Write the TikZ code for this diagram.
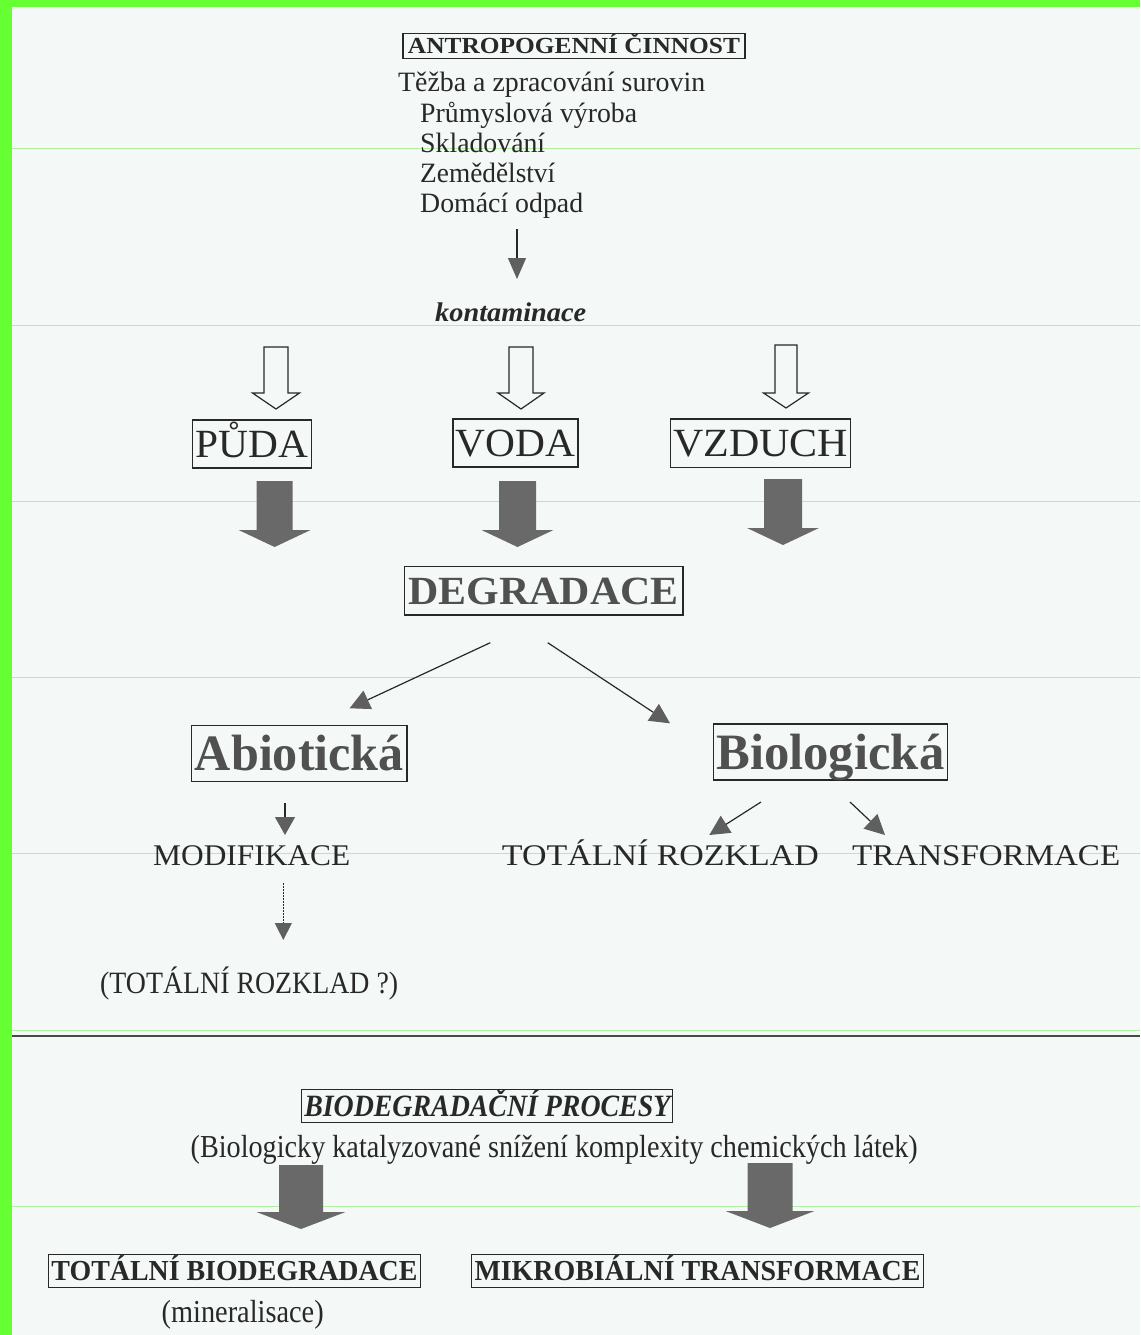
\documentclass[tikz,border=0pt]{standalone}
\usepackage{fontspec}
\setmainfont{Liberation Serif}
\usetikzlibrary{arrows.meta}
\definecolor{bg}{RGB}{244,248,246}
\definecolor{scangreen}{RGB}{102,255,51}
\definecolor{faintgreen}{RGB}{175,240,160}
\definecolor{ink}{RGB}{40,40,40}
\definecolor{tipgray}{RGB}{95,95,95}
\definecolor{blockgray}{RGB}{105,105,105}
\definecolor{textgray}{RGB}{80,80,80}
\newcommand\fitw[2]{\resizebox{#1pt}{\height}{#2}}
\newcommand\fsz[1]{\fontsize{#1pt}{#1pt}\selectfont}
% cx, ytop, yhead, ytip, shaft half width, head half width, style
\newcommand\blockarr[7]{\path[#7] (#1-#5,#2) -- (#1+#5,#2) -- (#1+#5,#3) -- (#1+#6,#3) -- (#1,#4) -- (#1-#6,#3) -- (#1-#5,#3) -- cycle;}
\begin{document}
\begin{tikzpicture}[x=1pt,y=-1pt,
  box/.style={draw=ink, line width=1.2pt, inner sep=0pt, text depth=0pt, text=ink},
  lbl/.style={inner sep=0pt, anchor=base west, text=ink},
  conn/.style={draw=ink, line width=1.2pt, -{Triangle[width=20pt,length=20pt,color=tipgray]}},
  hollow/.style={draw=ink, fill=bg, line width=1.2pt},
  solidarr/.style={fill=blockgray}]
\useasboundingbox (0,0) rectangle (1140,1335);
\fill[bg] (0,0) rectangle (1140,1335);
\fill[scangreen] (0,0) rectangle (12,1335);
\fill[scangreen] (0,0) rectangle (1140,7);
\foreach \yy in {148,325,501.5,677.5,853,1030,1206.7}
  \draw[faintgreen, line width=1pt] (12,\yy) -- (1140,\yy);
\draw[ink!85, line width=2.5pt] (12,1036) -- (1140,1036);

% top block
\node[box, minimum width=342pt, minimum height=25.6pt, text height=15pt, font=\bfseries\fsz{23}] (title) at (574,46) {\fitw{332}{ANTROPOGENNÍ ČINNOST}};
\node[lbl, font=\fsz{28}] (t1) at (398,92) {\fitw{307}{Těžba a zpracování surovin}};
\node[lbl, font=\fsz{28}] (t2) at (420,122) {\fitw{217}{Průmyslová výroba}};
\node[lbl, font=\fsz{28}] (t3) at (420,152) {\fitw{125}{Skladování}};
\node[lbl, font=\fsz{28}] (t4) at (420,182) {\fitw{135}{Zemědělství}};
\node[lbl, font=\fsz{28}] (t5) at (420,212) {\fitw{163}{Domácí odpad}};
\coordinate (k0) at (517,229);
\coordinate (k1) at (517,279);
\draw[conn, -{Triangle[width=18pt,length=21pt,color=tipgray]}] (k0) -- (k1);
\node[lbl, font=\bfseries\itshape\fsz{27}] (kont) at (435,321) {\fitw{151}{kontaminace}};

% hollow arrows
\blockarr{276}{347}{393}{409}{12}{23.5}{hollow}
\blockarr{521}{347}{393}{409}{12}{23}{hollow}
\blockarr{786}{345}{393}{408}{11}{22.5}{hollow}

% media
\node[box, minimum width=119pt, minimum height=48pt, text height=26.5pt, font=\fsz{40}] (puda) at (252,444) {\fitw{112.6}{PŮDA}};
\node[box, minimum width=125pt, minimum height=48pt, text height=26.5pt, font=\fsz{40}] (voda) at (515.5,443) {\fitw{119.6}{VODA}};
\node[box, minimum width=180pt, minimum height=48.7pt, text height=26.5pt, font=\fsz{40}] (vzduch) at (760.7,443.3) {\fitw{175}{VZDUCH}};

% solid arrows
\blockarr{274.6}{481}{530}{547}{18}{36}{solidarr}
\blockarr{517.5}{481}{530}{547}{18.5}{36}{solidarr}
\blockarr{783}{479}{528}{545}{19}{36}{solidarr}

\node[box, minimum width=278.6pt, minimum height=48.3pt, text height=26.5pt, font=\bfseries\fsz{40}, text=textgray] (degr) at (543.6,590.8) {\fitw{270}{DEGRADACE}};

\coordinate (d1) at (490.3,642.7);
\coordinate (d1e) at (349.6,708.3);
\coordinate (d2) at (547.7,642.7);
\coordinate (d2e) at (670,723.3);
\draw[conn] (d1) -- (d1e);
\draw[conn] (d2) -- (d2e);

\node[box, minimum width=215.2pt, minimum height=56pt, text height=34pt, font=\bfseries\fsz{51}, text=textgray] (abio) at (299.4,753.7) {\fitw{209}{Abiotická}};
\node[box, minimum width=234pt, minimum height=56pt, text height=34pt, font=\bfseries\fsz{51}, text=textgray] (bio) at (830.3,752) {\fitw{228}{Biologická}};

\coordinate (m0) at (285,803);
\coordinate (m1) at (285,835);
\draw[conn, -{Triangle[width=20pt,length=18pt,color=tipgray]}] (m0) -- (m1);
\node[lbl, font=\fsz{30}] (modif) at (153,865) {\fitw{197}{MODIFIKACE}};
\coordinate (q0) at (283.3,883);
\coordinate (q1) at (283.3,940);
\draw[conn, dash pattern=on 1.5pt off 1.5pt, -{Triangle[width=17pt,length=17pt,color=tipgray]}] (q0) -- (q1);
\node[lbl, font=\fsz{31}] (totq) at (100,993) {\fitw{298}{(TOTÁLNÍ ROZKLAD ?)}};

\coordinate (b1) at (761,802);
\coordinate (b1e) at (709.3,835);
\coordinate (b2) at (850,802);
\coordinate (b2e) at (885,835);
\draw[conn] (b1) -- (b1e);
\draw[conn] (b2) -- (b2e);
\node[lbl, font=\fsz{30}] (totroz) at (501.7,865) {\fitw{317}{TOTÁLNÍ ROZKLAD}};
\node[lbl, font=\fsz{30}] (transf) at (852,865) {\fitw{268}{TRANSFORMACE}};

% lower block
\node[box, minimum width=371pt, minimum height=33pt, text height=21pt, font=\bfseries\itshape\fsz{31}] (biodeg) at (487.3,1106) {\fitw{366}{BIODEGRADAČNÍ PROCESY}};
\node[lbl, font=\fsz{32}] (biocat) at (190.5,1157) {\fitw{727}{(Biologicky katalyzované snížení komplexity chemických látek)}};

\blockarr{301}{1165}{1212}{1229}{22}{44.5}{solidarr}
\blockarr{770}{1163}{1211}{1228}{22.5}{44.5}{solidarr}

\node[box, minimum width=371.7pt, minimum height=33pt, text height=19pt, font=\bfseries\fsz{29}] (totbio) at (234.5,1271) {\fitw{366}{TOTÁLNÍ BIODEGRADACE}};
\node[box, minimum width=452.3pt, minimum height=33pt, text height=19pt, font=\bfseries\fsz{29}] (mikro) at (697.5,1271) {\fitw{446}{MIKROBIÁLNÍ TRANSFORMACE}};
\node[lbl, font=\fsz{32}] (miner) at (161.5,1322) {\fitw{162}{(mineralisace)}};
\end{tikzpicture}
\end{document}
